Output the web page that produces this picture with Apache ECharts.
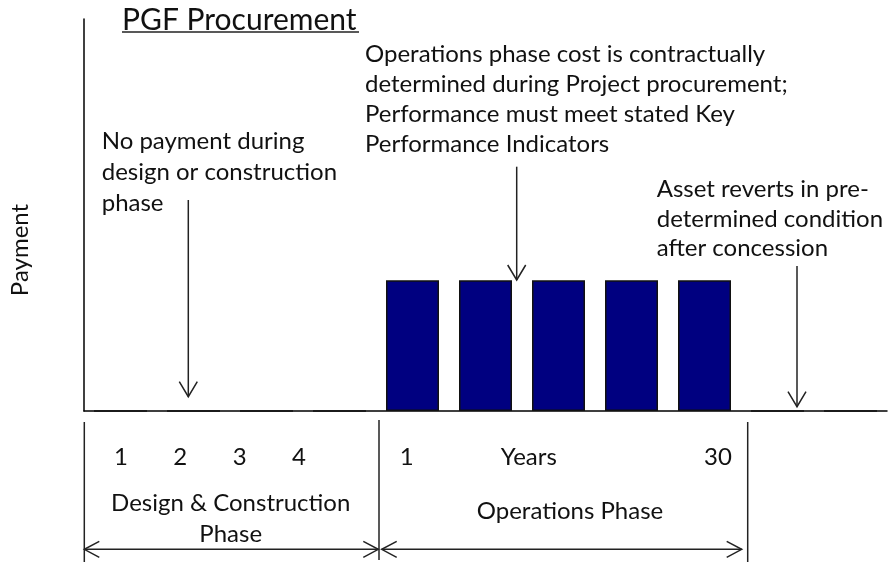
<!DOCTYPE html>
<html>
<head>
<meta charset="utf-8">
<script src="https://cdn.jsdelivr.net/npm/echarts@6/dist/echarts.min.js"></script>
<style>
html,body{margin:0;padding:0;background:#fff;}
#chart{width:891px;height:562px;}
</style>
</head>
<body>
<div id="chart"></div>
<script>
// ---- data ----
const periods = ['D1','D2','D3','D4','O1','O2','O3','O4','O5','A1','A2'];
const payments = [0,0,0,0,1,1,1,1,1,0,0];
const designYears = ['1','2','3','4'];
const opsYears = ['1','2','3','4','5','6','7','8','9','10','11','12','13','14','15','16','17','18','19','20','21','22','23','24','25','26','27','28','29','30'];
const opsYearsName = 'Years';
const yName = 'Payment';
const titleText = 'PGF Procurement';
const phaseNames = ['Design & Construction\nPhase', 'Operations Phase'];
const noteDesign = 'No payment during\ndesign or construction\nphase';
const noteOps = 'Operations phase cost is contractually\ndetermined during Project procurement;\nPerformance must meet stated Key\nPerformance Indicators';
const noteAsset = 'Asset reverts in pre-\ndetermined condition\nafter concession';

// ---- chart ----
const FONT = 'Lato';
const TXT = '#111';
const FS = 24;
const chart = echarts.init(document.getElementById('chart'));

function line(x1,y1,x2,y2){
  return {type:'line', shape:{x1,y1,x2,y2}, style:{stroke:'#222', lineWidth:1.5}, silent:true};
}
function downArrow(x,y1,y2){
  return [line(x,y1,x,y2), {type:'polyline', shape:{points:[[x-9,y2-15],[x,y2],[x+9,y2-15]]}, style:{stroke:'#222', lineWidth:1.5, fill:null}}];
}
function hArrow(x1,x2,y){
  return [line(x1,y,x2,y),
    {type:'polyline', shape:{points:[[x1+15,y-8],[x1,y],[x1+15,y+8]]}, style:{stroke:'#222', lineWidth:1.5, fill:null}},
    {type:'polyline', shape:{points:[[x2-15,y-8],[x2,y],[x2-15,y+8]]}, style:{stroke:'#222', lineWidth:1.5, fill:null}}];
}
function note(text,x,baseline,lh,align){
  return {type:'text', x:x, y:baseline-(lh/2+7.2), style:{text:text, font:FS+'px '+FONT, fill:TXT, lineHeight:lh, align:align||'left', verticalAlign:'top'}};
}

const option = {
  backgroundColor:'#fff',
  animation:false,
  title:{text:titleText, left:122, top:5, padding:0, textStyle:{fontFamily:FONT, fontSize:30, fontWeight:'normal', color:TXT}},
  grid:[
    {left:84, right:4, top:19, bottom:151, outerBoundsMode:'none', containLabel:false},
    {left:91.35, width:237.2, top:440, height:1, outerBoundsMode:'none', containLabel:false},
    {left:401.33, width:322, top:440, height:1, outerBoundsMode:'none', containLabel:false}
  ],
  xAxis:[
    {gridIndex:0, type:'category', data:periods, axisLine:{lineStyle:{color:'#000', width:1.5}}, axisTick:{show:false}, axisLabel:{show:false}},
    {gridIndex:1, type:'category', data:designYears, axisLine:{show:false}, axisTick:{show:false},
      axisLabel:{margin:4, fontFamily:FONT, fontSize:FS, color:TXT}},
    {gridIndex:2, type:'category', data:opsYears, axisLine:{show:false}, axisTick:{show:false},
      axisLabel:{margin:4, fontFamily:FONT, fontSize:FS, color:TXT, interval:function(i){return i===0||i===opsYears.length-1;}},
      name:opsYearsName, nameLocation:'middle', nameGap:4, nameMoveOverlap:false,
      nameTextStyle:{fontFamily:FONT, fontSize:FS, color:TXT, padding:[0,67,0,0]}}
  ],
  yAxis:[
    {gridIndex:0, type:'value', min:0, max:3, axisLine:{show:true, lineStyle:{color:'#000', width:1.5}}, axisTick:{show:false}, axisLabel:{show:false}, splitLine:{show:false},
      name:yName, nameLocation:'middle', nameGap:52, nameRotate:90, nameMoveOverlap:false,
      nameTextStyle:{fontFamily:FONT, fontSize:FS, color:TXT, padding:[0,70,0,0]}},
    {gridIndex:1, type:'value', show:false},
    {gridIndex:2, type:'value', show:false}
  ],
  series:[
    {type:'bar', xAxisIndex:0, yAxisIndex:0, data:payments, barWidth:53,
      itemStyle:{color:'#000080', borderColor:'#111', borderWidth:1.5}, silent:true}
  ],
  graphic:[
    line(122,32,359,32),
    note(noteDesign,101.7,148.3,31),
    note(noteOps,365,61.7,30),
    note(noteAsset,656.7,196.7,29.5),
    note(phaseNames[0],230.7,510,31.7,'center'),
    note(phaseNames[1],570,518,30,'center'),
    ...downArrow(188.3,200,396.7),
    ...downArrow(516.7,166.7,280),
    ...downArrow(797,266,406.7),
    line(84.3,422,84.3,562),
    line(379,420,379,560),
    line(747.7,422,747.7,562),
    ...hArrow(84.3,378.3,549.3),
    ...hArrow(381.7,741.7,549.3)
  ]
};
chart.setOption(option);
</script>
</body>
</html>
